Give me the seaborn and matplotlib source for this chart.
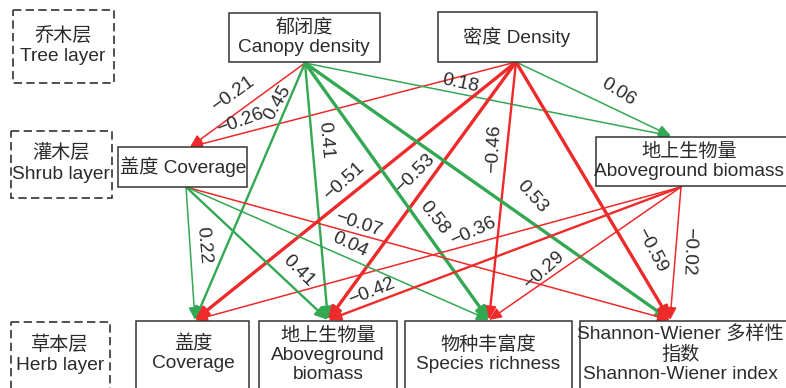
import numpy as np
import pandas as pd
import matplotlib
matplotlib.use("Agg")
import matplotlib.pyplot as plt
from matplotlib.patches import FancyArrowPatch, Rectangle, ArrowStyle
import seaborn as sns

# ---- model variables -------------------------------------------------------
node_ids = ["canopy", "density", "shrub_cov", "shrub_agb",
            "herb_cov", "herb_agb", "richness", "shannon"]
node_texts = ["郁闭度\nCanopy density", "密度 Density", "盖度 Coverage",
              "地上生物量\nAboveground biomass", "盖度\nCoverage",
              "地上生物量\nAboveground\nbiomass", "物种丰富度\nSpecies richness",
              "Shannon-Wiener 多样性\n指数\nShannon-Wiener index"]
layer_texts = ["乔木层\nTree layer", "灌木层\nShrub layer", "草本层\nHerb layer"]

# ---- standardised path coefficients ---------------------------------------
edge_from = ["canopy", "density", "canopy", "canopy", "canopy", "density",
             "density", "density", "density", "canopy", "canopy", "shrub_agb",
             "shrub_cov", "shrub_cov", "shrub_cov", "shrub_cov", "shrub_agb",
             "shrub_agb", "density", "shrub_agb"]
edge_to = ["shrub_cov", "shrub_cov", "herb_cov", "herb_agb", "shrub_agb",
           "shrub_agb", "herb_cov", "herb_agb", "richness", "shannon",
           "richness", "herb_cov", "shannon", "richness", "herb_cov",
           "herb_agb", "herb_agb", "richness", "shannon", "shannon"]
path_coef = [-0.21, -0.26, 0.45, 0.41, 0.18, 0.06, -0.51, -0.53, -0.46, 0.53,
             0.58, -0.36, -0.07, 0.04, 0.22, 0.41, -0.42, -0.29, -0.59, -0.02]

edges = pd.DataFrame({"src": edge_from, "dst": edge_to, "coef": path_coef})

# ---- layout (canvas units = pixels, y pointing down) ----------------------
W, H = 786, 388
boxes = {
    "canopy":    (229, 13, 380, 62),
    "density":   (438, 12, 597, 62),
    "shrub_cov": (118, 147, 247, 187),
    "shrub_agb": (596, 137, 800, 186),
    "herb_cov":  (136, 321, 249, 400),
    "herb_agb":  (259, 321, 397, 400),
    "richness":  (405, 321, 572, 400),
    "shannon":   (580, 321, 800, 400),
}
text_pos = {
    "canopy": (304, 37), "density": (517, 37), "shrub_cov": (183, 167),
    "shrub_agb": (689, 161), "herb_cov": (193, 354), "herb_agb": (328, 355),
    "richness": (488, 354), "shannon": (680, 354),
}
out_pt = {"canopy": (305, 63), "density": (516, 62),
          "shrub_cov": (186, 187), "shrub_agb": (681, 187)}
in_pt = {"shrub_cov": (190, 147), "shrub_agb": (671, 136),
         "herb_cov": (195, 320), "herb_agb": (328, 320),
         "richness": (489, 320), "shannon": (670, 320)}
layer_boxes = [(12.5, 10, 114, 83), (11, 131, 112, 198), (11, 322, 110, 400)]
layer_text_pos = [(63, 46), (61, 164), (60, 355)]

# label placement along each path: (fraction along path, side offset, angle)
label_place = [(0.536, 17.8, 36), (0.838, 11.8, 20), (0.168, 10.1, 60),
               (0.304, -13.0, -85), (0.418, -10.3, -12), (0.611, -17.3, -32),
               (0.508, 14.2, 42), (0.470, 15.6, 45), (0.339, 12.6, 87),
               (0.589, -21.1, -48), (0.637, -15.2, -52), (0.422, 11.9, 25),
               (0.350, -9.9, -18), (0.523, -12.6, -25), (0.441, -13.0, -85),
               (0.719, -15.9, -45), (0.865, 10.6, 22), (0.686, 9.7, 42),
               (0.767, -19.5, -62), (0.477, -13.3, -92)]

# ---- style -----------------------------------------------------------------
sns.set_theme(style="white")
plt.rcParams["font.family"] = ["Liberation Sans", "Noto Sans CJK SC"]
POS = "#33a852"
NEG = "#ee2a2a"
TXT = "#2b2b2b"
FS = 13.8


def edge_width(c):
    a = abs(c)
    if a >= 0.5:
        return 2.4
    if a >= 0.4:
        return 1.7
    return 1.1


fig = plt.figure(figsize=(W / 100, H / 100), dpi=100)
ax = fig.add_axes([0, 0, 1, 1])
ax.set_xlim(0, W)
ax.set_ylim(H, 0)
ax.axis("off")

# layer captions in dashed frames
for (x0, y0, x1, y1), (tx, ty), txt in zip(layer_boxes, layer_text_pos, layer_texts):
    ax.add_patch(Rectangle((x0, y0), x1 - x0, y1 - y0, fill=False,
                           edgecolor="#333333", lw=1.2,
                           linestyle=(0, (5, 2.6)), zorder=3))
    ax.text(tx, ty, txt, ha="center", va="center", fontsize=FS,
            color=TXT, linespacing=1.2, zorder=4)

# variable boxes
for nid, txt in zip(node_ids, node_texts):
    x0, y0, x1, y1 = boxes[nid]
    ax.add_patch(Rectangle((x0, y0), x1 - x0, y1 - y0, facecolor="white",
                           edgecolor="#333333", lw=1.1, zorder=3))
    tx, ty = text_pos[nid]
    ax.text(tx, ty, txt, ha="center", va="center", fontsize=FS, color=TXT,
            linespacing=1.15, multialignment="center", zorder=4)

# paths with coefficient labels
head = ArrowStyle("-|>", head_length=7.5, head_width=3.3)
for (src, dst, coef), (t, off, rot) in zip(edges.itertuples(index=False), label_place):
    p0 = np.array(out_pt[src], float)
    p1 = np.array(in_pt[dst], float)
    col = POS if coef > 0 else NEG
    ax.add_patch(FancyArrowPatch(p0, p1, arrowstyle=head, mutation_scale=1,
                                 color=col, lw=edge_width(coef),
                                 shrinkA=0, shrinkB=0, zorder=2))
    d = p1 - p0
    u = d / np.hypot(*d)
    n = np.array([-u[1], u[0]])
    lx, ly = p0 + t * d + off * n
    ax.text(lx, ly, f"{coef:.2f}".replace("-", "\u2212"), ha="center",
            va="center", rotation=rot, rotation_mode="anchor",
            fontsize=FS, color=TXT, zorder=5)

fig.savefig("out.png", dpi=100)
